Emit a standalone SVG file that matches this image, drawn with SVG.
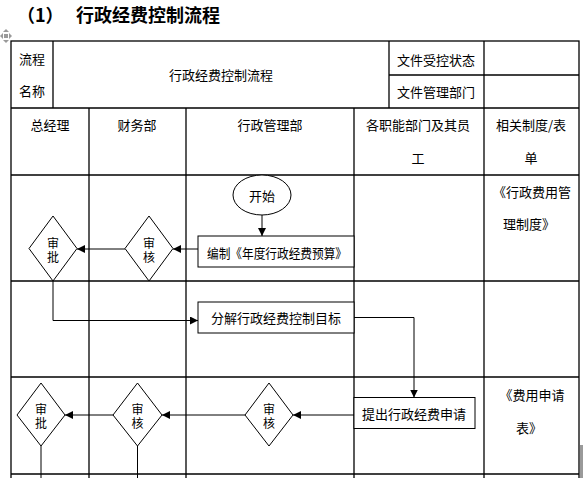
<svg xmlns="http://www.w3.org/2000/svg" width="583" height="478" viewBox="0 0 583 478">
<defs>
<style>
.grid{stroke:#000;stroke-width:1.3;fill:none}
.shape{stroke:#000;stroke-width:1;fill:#fff}
.conn{stroke:#000;stroke-width:1;fill:none}
.t{font-family:"Noto Sans CJK SC","Liberation Sans",sans-serif;font-size:13px;fill:#000;text-anchor:middle;dominant-baseline:central}
.d{font-family:"Noto Sans CJK SC","Liberation Sans",sans-serif;font-size:12px;fill:#000;text-anchor:middle;dominant-baseline:central}
.title{font-family:"Noto Sans CJK SC","Liberation Sans",sans-serif;font-size:18px;font-weight:bold;fill:#000}
</style>
<marker id="arr" markerUnits="userSpaceOnUse" markerWidth="8" markerHeight="8" refX="8" refY="4" orient="auto">
<path d="M0,0 L8,4 L0,8 z" fill="#000"/>
</marker>
</defs>
<rect width="583" height="478" fill="#fff"/>

<g id="title">
<text class="title" x="17" y="22">（1）</text>
<text class="title" x="76" y="22">行政经费控制流程</text>
</g>

<g id="handle" fill="#9a9a9a">
<polygon points="6,29 9,32 3,32"/>
<polygon points="6,43 9,40 3,40"/>
<polygon points="0,36 3,33 3,39"/>
<polygon points="12,36 9,33 9,39"/>
<rect x="4" y="34" width="4" height="4"/>
</g>

<g id="table">
<rect class="grid" x="11" y="41" width="568" height="440"/>
<line class="grid" x1="53" y1="41" x2="53" y2="108"/>
<line class="grid" x1="389" y1="41" x2="389" y2="108"/>
<line class="grid" x1="484" y1="41" x2="484" y2="478"/>
<line class="grid" x1="389" y1="75" x2="579" y2="75"/>
<line class="grid" x1="11" y1="108" x2="579" y2="108"/>
<line class="grid" x1="89" y1="108" x2="89" y2="478"/>
<line class="grid" x1="186" y1="108" x2="186" y2="478"/>
<line class="grid" x1="354" y1="108" x2="354" y2="478"/>
<line class="grid" x1="11" y1="175" x2="579" y2="175"/>
<line class="grid" x1="11" y1="281" x2="579" y2="281"/>
<line class="grid" x1="11" y1="377" x2="579" y2="377"/>
<line class="grid" x1="11" y1="474" x2="579" y2="474"/>
<rect x="580" y="445" width="3" height="33" fill="#9a9a9a"/>
<text class="t" x="32" y="58">流程</text>
<text class="t" x="32" y="90">名称</text>
<text class="t" x="221" y="74">行政经费控制流程</text>
<text class="t" x="436" y="59">文件受控状态</text>
<text class="t" x="436" y="91">文件管理部门</text>
<text class="t" x="50" y="124">总经理</text>
<text class="t" x="137" y="124">财务部</text>
<text class="t" x="270" y="124">行政管理部</text>
<text class="t" x="418" y="124">各职能部门及其员</text>
<text class="t" x="418" y="157">工</text>
<text class="t" x="531" y="124">相关制度/表</text>
<text class="t" x="531" y="157">单</text>
<text class="t" x="532" y="191">《行政费用管</text>
<text class="t" x="529" y="223">理制度》</text>
<text class="t" x="532" y="394">《费用申请</text>
<text class="t" x="529" y="427">表》</text>
</g>

<g id="connectors">
<line class="conn" x1="262" y1="215" x2="262" y2="236" marker-end="url(#arr)"/>
<line class="conn" x1="198" y1="249" x2="173" y2="249" marker-end="url(#arr)"/>
<line class="conn" x1="125" y1="249" x2="77" y2="249" marker-end="url(#arr)"/>
<polyline class="conn" points="53,280 53,320.5 198,320.5" marker-end="url(#arr)"/>
<polyline class="conn" points="354,317.5 414,317.5 414,397.5" marker-end="url(#arr)"/>
<line class="conn" x1="354" y1="415" x2="293" y2="415" marker-end="url(#arr)"/>
<line class="conn" x1="245" y1="415" x2="162" y2="415" marker-end="url(#arr)"/>
<line class="conn" x1="113" y1="415" x2="65" y2="415" marker-end="url(#arr)"/>
<line class="conn" x1="41" y1="446" x2="41" y2="478"/>
<line class="conn" x1="137.5" y1="446" x2="137.5" y2="478"/>
</g>

<g id="start">
<ellipse class="shape" cx="262" cy="195" rx="29" ry="20"/>
<text class="t" x="262" y="195">开始</text>
</g>
<g id="budget">
<rect class="shape" x="198" y="236" width="156" height="31"/>
<text class="t" x="277" y="252" textLength="140" lengthAdjust="spacingAndGlyphs">编制《年度行政经费预算》</text>
</g>
<g id="review1">
<polygon class="shape" points="149,216 173,248.5 149,281 125,248.5"/>
<text class="d" x="149" y="242">审<tspan x="149" dy="14">核</tspan></text>
</g>
<g id="approve1">
<polygon class="shape" points="53,216 77,248.5 53,281 29,248.5"/>
<text class="d" x="53" y="242">审<tspan x="53" dy="14">批</tspan></text>
</g>
<g id="decompose">
<rect class="shape" x="198" y="302" width="156" height="31"/>
<text class="t" x="276" y="317">分解行政经费控制目标</text>
</g>
<g id="apply">
<rect class="shape" x="354" y="397.5" width="121" height="31"/>
<text class="t" x="414" y="413">提出行政经费申请</text>
</g>
<g id="review3">
<polygon class="shape" points="269,383 293,415 269,446 245,415"/>
<text class="d" x="269" y="408">审<tspan x="269" dy="14">核</tspan></text>
</g>
<g id="review2">
<polygon class="shape" points="137.5,383 162,415 137.5,446 113,415"/>
<text class="d" x="137.5" y="408">审<tspan x="137.5" dy="14">核</tspan></text>
</g>
<g id="approve2">
<polygon class="shape" points="41,383 65,415 41,446 17,415"/>
<text class="d" x="41" y="408">审<tspan x="41" dy="14">批</tspan></text>
</g>
</svg>
